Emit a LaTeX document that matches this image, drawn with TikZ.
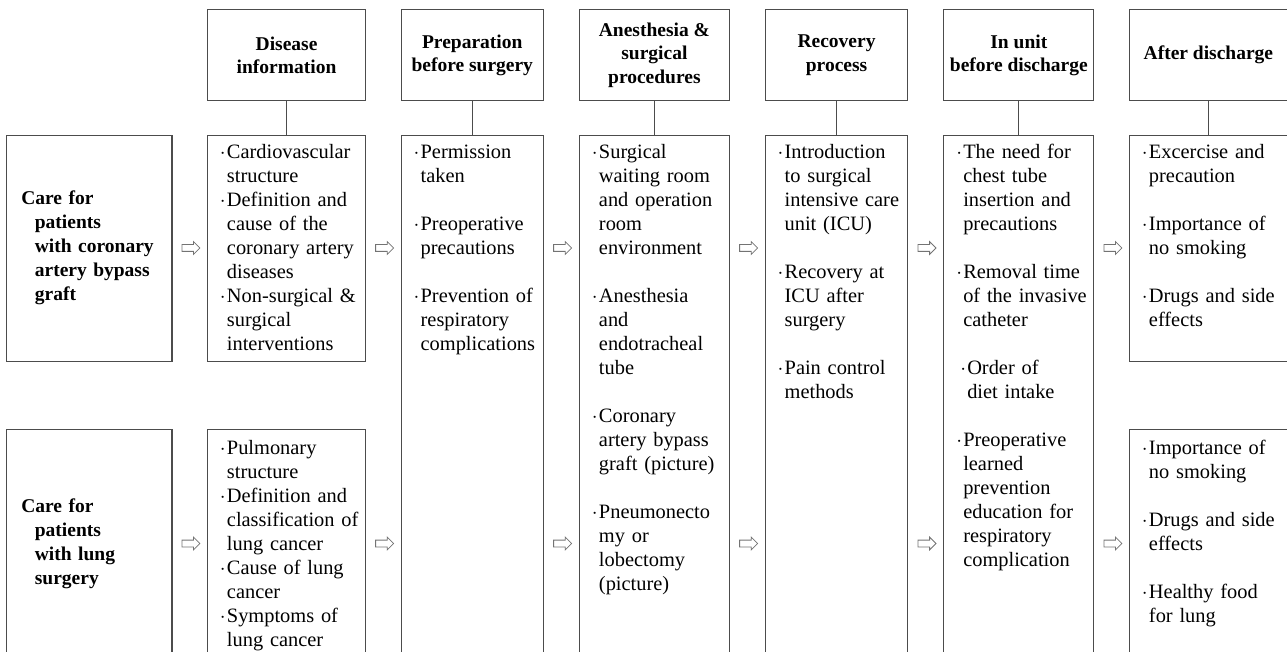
\documentclass[tikz,border=0pt]{standalone}
\usepackage{fontspec}
\setmainfont{Liberation Serif}
\usetikzlibrary{shapes.arrows}
\newcommand{\dt}{\makebox[7pt][l]{$\cdot$}}
\newcommand{\ind}{\hspace*{7pt}}

\begin{document}
\begin{tikzpicture}[x=1pt,y=-1pt,line width=1.1pt,
  box/.style={draw=black!70,rectangle,anchor=north west,inner sep=0pt},
  head/.style={box,align=center,minimum height=90.7pt,font=\fontsize{19.5}{23.3}\selectfont\bfseries},
  side/.style={box,text width=136pt,inner xsep=14.7pt,align=left,font=\fontsize{19.5}{24}\selectfont\bfseries},
  txt/.style={anchor=north west,inner sep=0pt,align=left,text width=200pt,font=\fontsize{20.4}{24}\selectfont},
  arr/.style={single arrow,draw=black!55,line width=0.8pt,inner sep=3pt,single arrow head extend=3pt,single arrow head indent=0pt,minimum height=18pt}]
\useasboundingbox (0,0) rectangle (1287,652);

\node[head,minimum width=158pt] (h1) at (207,9.3) {Disease\\information};
\node[head,minimum width=142pt] (h2) at (400.7,9.3) {Preparation\\before surgery};
\node[head,minimum width=149.7pt] (h3) at (579,9.3) {Anesthesia \&\\surgical\\procedures};
\node[head,minimum width=142.6pt] (h4) at (764.7,9.3) {Recovery\\process};
\node[head,minimum width=150pt] (h5) at (943.3,9.3) {In unit\\before discharge};
\node[head,minimum width=157.7pt] (h6) at (1129,9.3) {After discharge};

\node[side,minimum height=226pt] (la) at (6,134.7) {Care for\\\hspace*{13.6pt}patients\\\hspace*{13.6pt}with coronary\\\hspace*{13.6pt}artery bypass\\\hspace*{13.6pt}graft};
\node[side,minimum height=229pt] (lb) at (6,429) {Care for\\\hspace*{13.6pt}patients\\\hspace*{13.6pt}with lung\\\hspace*{13.6pt}surgery};

\node[box,minimum width=158pt,minimum height=226pt] (c1a) at (207,134.7) {};
\node[box,minimum width=158pt,minimum height=229pt] (c1b) at (207,429) {};
\node[box,minimum width=142pt,minimum height=523.3pt] (c2) at (400.7,134.7) {};
\node[box,minimum width=149.7pt,minimum height=523.3pt] (c3) at (579,134.7) {};
\node[box,minimum width=142.6pt,minimum height=523.3pt] (c4) at (764.7,134.7) {};
\node[box,minimum width=150pt,minimum height=523.3pt] (c5) at (943.3,134.7) {};
\node[box,minimum width=157.7pt,minimum height=226pt] (c6a) at (1129,134.7) {};
\node[box,minimum width=157.7pt,minimum height=229pt] (c6b) at (1129,429) {};

\node[txt] (t1a) at ([xshift=12.4pt,yshift=-6.8pt]c1a.north west) {\strut\dt Cardiovascular\\\ind structure\\\dt Definition and\\\ind cause of the\\\ind coronary artery\\\ind diseases\\\dt Non-surgical \&\\\ind surgical\\\ind interventions};
\node[txt] (t1b) at ([xshift=12.4pt,yshift=-8pt]c1b.north west) {\strut\dt Pulmonary\\\ind structure\\\dt Definition and\\\ind classification of\\\ind lung cancer\\\dt Cause of lung\\\ind cancer\\\dt Symptoms of\\\ind lung cancer};
\node[txt] (t2) at ([xshift=12.4pt,yshift=-6.8pt]c2.north west) {\strut\dt Permission\\\ind taken\\[24pt]\dt Preoperative\\\ind precautions\\[24pt]\dt Prevention of\\\ind respiratory\\\ind complications};
\node[txt] (t3) at ([xshift=12.4pt,yshift=-6.8pt]c3.north west) {\strut\dt Surgical\\\ind waiting room\\\ind and operation\\\ind room\\\ind environment\\[24pt]\dt Anesthesia\\\ind and\\\ind endotracheal\\\ind tube\\[24pt]\dt Coronary\\\ind artery bypass\\\ind graft (picture)\\[24pt]\dt Pneumonecto\\\ind my or\\\ind lobectomy\\\ind (picture)};
\node[txt] (t4) at ([xshift=12.4pt,yshift=-6.8pt]c4.north west) {\strut\dt Introduction\\\ind to surgical\\\ind intensive care\\\ind unit (ICU)\\[24pt]\dt Recovery at\\\ind ICU after\\\ind surgery\\[24pt]\dt Pain control\\\ind methods};
\node[txt] (t5) at ([xshift=12.4pt,yshift=-6.8pt]c5.north west) {\strut\dt The need for\\\ind chest tube\\\ind insertion and\\\ind precautions\\[24pt]\dt Removal time\\\ind of the invasive\\\ind catheter\\[24pt]\hspace*{4pt}\dt Order of\\\hspace*{4pt}\ind diet intake\\[24pt]\dt Preoperative\\\ind learned\\\ind prevention\\\ind education for\\\ind respiratory\\\ind complication};
\node[txt] (t6a) at ([xshift=12.4pt,yshift=-6.8pt]c6a.north west) {\strut\dt Excercise and\\\ind precaution\\[24pt]\dt Importance of\\\ind no smoking\\[24pt]\dt Drugs and side\\\ind effects};
\node[txt] (t6b) at ([xshift=12.4pt,yshift=-8pt]c6b.north west) {\strut\dt Importance of\\\ind no smoking\\[24pt]\dt Drugs and side\\\ind effects\\[24pt]\dt Healthy food\\\ind for lung};

\draw[draw=black!70] (h1) -- (c1a);
\draw[draw=black!70] (h2) -- (c2);
\draw[draw=black!70] (h3) -- (c3);
\draw[draw=black!70] (h4) -- (c4);
\draw[draw=black!70] (h5) -- (c5);
\draw[draw=black!70] (h6) -- (c6a);

\foreach \x [count=\i] in {189.2,382.9,560.9,746.9,925.3,1111.2} {
  \node[arr] (ar\i) at (\x,248) {};
  \node[arr] (br\i) at (\x,543.5) {};
}
\end{tikzpicture}
\end{document}
